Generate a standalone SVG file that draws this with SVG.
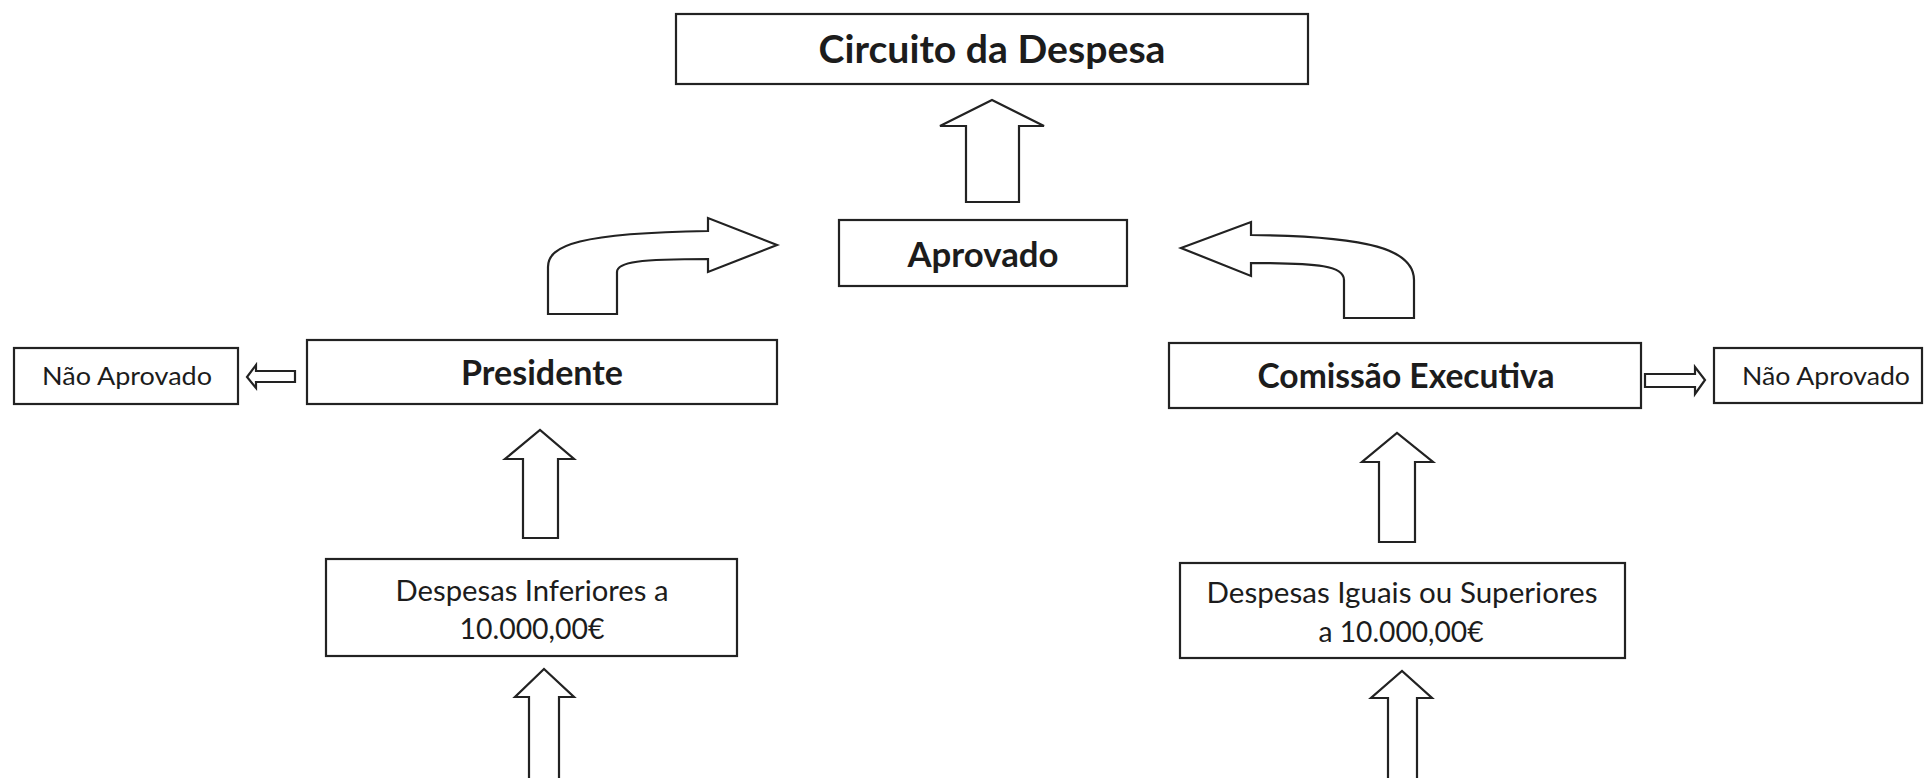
<svg xmlns="http://www.w3.org/2000/svg" width="1924" height="778" viewBox="0 0 1924 778">
<style>
.box{fill:#fff;stroke:#222;stroke-width:2.2}
.arr{fill:#fff;stroke:#222;stroke-width:2.2;stroke-linejoin:miter}
.t{font-family:Lato,"Open Sans","Noto Sans",sans-serif;fill:#1c1c1c;text-anchor:middle}
.b{font-weight:bold}
.h1{font-size:39px}
.h2{font-size:34px}
.r1{font-size:25px}
.r2{font-size:29px}
</style>
<rect width="1924" height="778" fill="#fff"/>
<g id="connectors">
<path class="arr" d="M966,202 L966,126 L940,126 L992,100 L1044,126 L1019,126 L1019,202 Z"/>
<path class="arr" d="M548,314 L548,267 C548,245 580,233 708,231 L708,218 L777,245 L708,272 L708,259 C640,259 617,262 617,272 L617,314 Z"/>
<path class="arr" d="M1414,318 L1414,280 C1414,250 1370,236 1251,235 L1251,222 L1181,248 L1251,276 L1251,263 C1320,263 1344,266 1344,280 L1344,318 Z"/>
<path class="arr" d="M295,371 L256,371 L256,365 L247,377 L256,388 L256,382 L295,382 Z"/>
<path class="arr" d="M1645,374 L1695,374 L1695,367 L1705,380 L1695,394 L1695,387 L1645,387 Z"/>
<path class="arr" d="M523,538 L523,459 L505,459 L540,430 L574,459 L558,459 L558,538 Z"/>
<path class="arr" d="M529,785 L529,697 L515,697 L544,669 L574,697 L559,697 L559,785"/>
<path class="arr" d="M1379,542 L1379,462 L1362,462 L1397,433 L1433,462 L1415,462 L1415,542 Z"/>
<path class="arr" d="M1388,785 L1388,698 L1371,698 L1402,671 L1432,698 L1417,698 L1417,785"/>
</g>
<g id="circuito">
<rect class="box" x="676" y="14" width="632" height="70"/>
<text class="t b h1" x="992" y="63" textLength="347" lengthAdjust="spacingAndGlyphs">Circuito da Despesa</text>
</g>
<g id="aprovado">
<rect class="box" x="839" y="220" width="288" height="66"/>
<text class="t b h2" x="983" y="267" textLength="151" lengthAdjust="spacingAndGlyphs">Aprovado</text>
</g>
<g id="presidente">
<rect class="box" x="307" y="340" width="470" height="64"/>
<text class="t b h2" x="542" y="385" textLength="162" lengthAdjust="spacingAndGlyphs">Presidente</text>
</g>
<g id="nao-aprovado-esq">
<rect class="box" x="14" y="348" width="224" height="56"/>
<text class="t r1" x="127" y="385" textLength="170" lengthAdjust="spacingAndGlyphs">Não Aprovado</text>
</g>
<g id="comissao">
<rect class="box" x="1169" y="343" width="472" height="65"/>
<text class="t b h2" x="1406" y="388" textLength="297" lengthAdjust="spacingAndGlyphs">Comissão Executiva</text>
</g>
<g id="nao-aprovado-dir">
<rect class="box" x="1714" y="348" width="208" height="55"/>
<text class="t r1" x="1826" y="385" textLength="168" lengthAdjust="spacingAndGlyphs">Não Aprovado</text>
</g>
<g id="despesas-inferiores">
<rect class="box" x="326" y="559" width="411" height="97"/>
<text class="t r2" x="532" y="601" textLength="273" lengthAdjust="spacingAndGlyphs">Despesas Inferiores a</text>
<text class="t r2" x="532" y="639" textLength="145" lengthAdjust="spacingAndGlyphs">10.000,00€</text>
</g>
<g id="despesas-superiores">
<rect class="box" x="1180" y="563" width="445" height="95"/>
<text class="t r2" x="1402" y="603" textLength="391" lengthAdjust="spacingAndGlyphs">Despesas Iguais ou Superiores</text>
<text class="t r2" x="1401" y="642" textLength="165" lengthAdjust="spacingAndGlyphs">a 10.000,00€</text>
</g>
</svg>
